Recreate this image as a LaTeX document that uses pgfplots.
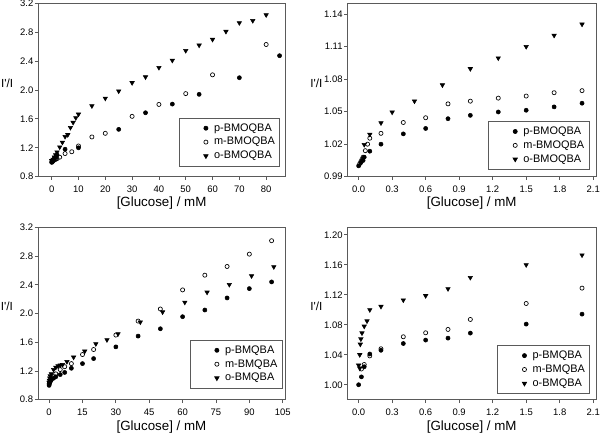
\documentclass[border=0pt]{standalone}
\usepackage{pgfplots}
\pgfplotsset{compat=1.18}
\usepackage{fontspec}
\setmainfont{Liberation Sans}
\definecolor{frame}{RGB}{90,90,90}
\pgfplotsset{
  panel/.style={
    scale only axis,
    anchor=south west,
    axis line style={frame, line width=0.6pt},
    tick style={frame, line width=0.6pt},
    tick align=outside,
    major tick length=2.5pt,
    xtick pos=bottom, ytick pos=left,
    /pgf/number format/assume math mode=true,
    tick label style={font=\fontsize{7.1}{8}\selectfont},
    yticklabel style={inner xsep=1pt},
    label style={font=\fontsize{9.2}{10}\selectfont},
    xlabel={[Glucose] / mM},
    ylabel={I\textquotesingle/I},
    every axis y label/.style={at={(rel axis cs:0,0.54)}, anchor=east, inner sep=0pt, xshift=-18.6pt, font=\fontsize{8.8}{9}\selectfont},
    every axis x label/.style={at={(rel axis cs:0.5,0)}, anchor=center, yshift=-20pt},
    xticklabel style={yshift=-1pt},
    legend style={draw=frame, line width=0.5pt, font=\fontsize{8.2}{9.6}\selectfont, anchor=south east, inner xsep=2pt, inner ysep=2.5pt, row sep=0pt, nodes={inner sep=1.6pt}},
    legend cell align=left,
    legend image code/.code={\path[draw=none, fill=none] (0cm,0cm) -- (0.8cm,0cm); \path[#1] plot coordinates {(0.64cm,0cm)};},
  },
  pp/.style={only marks, mark=*, mark size=1.55pt, black},
  mm/.style={only marks, mark=o, mark size=1.55pt, black, mark options={fill=white, line width=0.5pt}},
  oo/.style={only marks, mark=triangle*, mark size=1.9pt, black, mark options={rotate=180}},
}
\begin{document}
\begin{tikzpicture}
\path[use as bounding box] (0,0) rectangle (450pt,327pt);
% ---------- top left ----------
\begin{axis}[panel, at={(28.7pt,194.5pt)}, width=185pt, height=130pt,
  xmin=-5, xmax=87, ymin=0.8, ymax=3.2,
  xtick={0,10,...,80}, ytick={0.8,1.2,1.6,2.0,2.4,2.8,3.2},
  yticklabel style={/pgf/number format/.cd, fixed, fixed zerofill, precision=1},
  legend style={at={(0.98,0.058)}}]
\addplot[pp] coordinates {(0,1.00) (0.2,1.01) (0.4,1.02) (0.6,1.03) (0.8,1.04) (1,1.05) (1.5,1.07) (2,1.10) (5,1.18) (10,1.20) (25,1.455) (35,1.685) (45,1.805) (55,1.94) (70,2.17) (85,2.475)};
\addplot[mm] coordinates {(0.1,1.00) (0.3,1.01) (0.5,1.02) (1,1.03) (1.5,1.04) (2,1.05) (3,1.07) (5,1.12) (7.5,1.145) (10,1.225) (15,1.35) (20,1.40) (30,1.635) (40,1.80) (50,1.95) (60,2.21) (80,2.63)};
\addplot[oo] coordinates {(0,1.02) (0.5,1.04) (1,1.07) (1.5,1.10) (2,1.14) (3,1.21) (4,1.275) (5,1.355) (6,1.38) (7,1.48) (8,1.55) (9,1.615) (10,1.665) (15,1.78) (20,1.885) (25,1.985) (30,2.10) (35,2.18) (40,2.31) (45,2.41) (50,2.545) (55,2.62) (60,2.70) (65,2.81) (70,2.93) (75,2.96) (80,3.04)};
\legend{p-BMOQBA, m-BMOQBA, o-BMOQBA}
\end{axis}
% ---------- top right ----------
\begin{axis}[panel, at={(260.6pt,194.5pt)}, width=186.4pt, height=130pt,
  xmin=-0.1, xmax=2.125, ymin=0.99, ymax=1.15,
  xtick={0,0.3,0.6,0.9,1.2,1.5,1.8,2.1}, ytick={0.99,1.02,1.05,1.08,1.11,1.14},
  xticklabel style={/pgf/number format/.cd, fixed, fixed zerofill, precision=1},
  yticklabel style={/pgf/number format/.cd, fixed, fixed zerofill, precision=2},
  legend style={at={(0.973,0.039)}}]
\addplot[pp] coordinates {(0,1.000) (0.02,1.003) (0.04,1.005) (0.05,1.008) (0.1,1.0135) (0.2,1.020) (0.4,1.0295) (0.6,1.0345) (0.8,1.0435) (1.0,1.0466) (1.25,1.0497) (1.5,1.0513) (1.75,1.0544) (2.0,1.0578)};
\addplot[mm] coordinates {(0.01,1.002) (0.02,1.004) (0.03,1.006) (0.04,1.008) (0.06,1.014) (0.08,1.020) (0.1,1.0255) (0.2,1.030) (0.4,1.040) (0.6,1.0444) (0.8,1.0572) (1.0,1.0597) (1.25,1.0625) (1.5,1.0644) (1.75,1.0675) (2.0,1.0694)};
\addplot[oo] coordinates {(0.05,1.0196) (0.1,1.029) (0.2,1.0396) (0.3,1.0495) (0.5,1.0597) (0.75,1.0746) (1.0,1.0896) (1.25,1.0995) (1.5,1.110) (1.75,1.1204) (2.0,1.1307)};
\legend{p-BMOQBA, m-BMOQBA, o-BMOQBA}
\end{axis}
% ---------- bottom left ----------
\begin{axis}[panel, at={(28.5pt,27.2pt)}, width=185.2pt, height=129.3pt,
  xmin=-5, xmax=106, ymin=0.8, ymax=3.2,
  xtick={0,15,...,105}, ytick={0.8,1.2,1.6,2.0,2.4,2.8,3.2},
  yticklabel style={/pgf/number format/.cd, fixed, fixed zerofill, precision=1},
  every axis x label/.style={at={(rel axis cs:0.5,0)}, anchor=center, yshift=-20.5pt},
  legend style={at={(0.99,0.064)}}]
\addplot[pp] coordinates {(0,1.00) (0.2,1.03) (0.4,1.05) (0.6,1.06) (0.8,1.07) (1,1.08) (2,1.10) (3,1.12) (5,1.15) (7,1.18) (10,1.238) (15,1.303) (20,1.373) (30,1.536) (40,1.686) (50,1.788) (60,1.956) (70,2.049) (80,2.217) (90,2.347) (100,2.44)};
\addplot[mm] coordinates {(0,1.02) (0.2,1.04) (0.4,1.06) (0.6,1.07) (0.8,1.08) (1,1.09) (2,1.12) (3,1.16) (5,1.22) (7,1.26) (10,1.303) (15,1.429) (20,1.499) (30,1.70) (40,1.895) (50,2.063) (60,2.329) (70,2.534) (80,2.655) (90,2.827) (100,3.014)};
\addplot[oo] coordinates {(0,1.04) (0.1,1.07) (0.3,1.10) (0.5,1.13) (1,1.16) (2,1.22) (3,1.25) (4,1.27) (5,1.28) (6,1.29) (8,1.33) (11,1.392) (16,1.475) (21,1.578) (26,1.634) (31,1.718) (41,1.881) (51,2.021) (61,2.156) (71,2.296) (81,2.403) (91,2.524) (101,2.650)};
\legend{p-BMQBA, m-BMQBA, o-BMQBA}
\end{axis}
% ---------- bottom right ----------
\begin{axis}[panel, at={(260.6pt,27.2pt)}, width=186.4pt, height=129.3pt,
  xmin=-0.1, xmax=2.125, ymin=0.98, ymax=1.21,
  xtick={0,0.3,0.6,0.9,1.2,1.5,1.8,2.1}, ytick={1.00,1.04,1.08,1.12,1.16,1.20},
  xticklabel style={/pgf/number format/.cd, fixed, fixed zerofill, precision=1},
  yticklabel style={/pgf/number format/.cd, fixed, fixed zerofill, precision=2},
  every axis x label/.style={at={(rel axis cs:0.5,0)}, anchor=center, yshift=-20.5pt},
  legend style={at={(0.976,0.033)}}]
\addplot[pp] coordinates {(0,1.000) (0.025,1.0105) (0.05,1.024) (0.1,1.041) (0.2,1.046) (0.4,1.055) (0.6,1.0596) (0.8,1.0622) (1.0,1.0689) (1.5,1.0809) (2.0,1.0942)};
\addplot[mm] coordinates {(0.025,1.021) (0.05,1.027) (0.1,1.0385) (0.2,1.048) (0.4,1.064) (0.6,1.0693) (0.8,1.0738) (1.0,1.0871) (1.5,1.1084) (2.0,1.1289)};
\addplot[oo] coordinates {(0,1.026) (0.01,1.022) (0.01,1.040) (0.015,1.054) (0.02,1.061) (0.03,1.069) (0.05,1.078) (0.075,1.085) (0.1,1.100) (0.2,1.1044) (0.4,1.113) (0.6,1.1187) (0.8,1.128) (1.0,1.143) (1.5,1.160) (2.0,1.173)};
\legend{p-BMQBA, m-BMQBA, o-BMQBA}
\end{axis}
\end{tikzpicture}
\end{document}
